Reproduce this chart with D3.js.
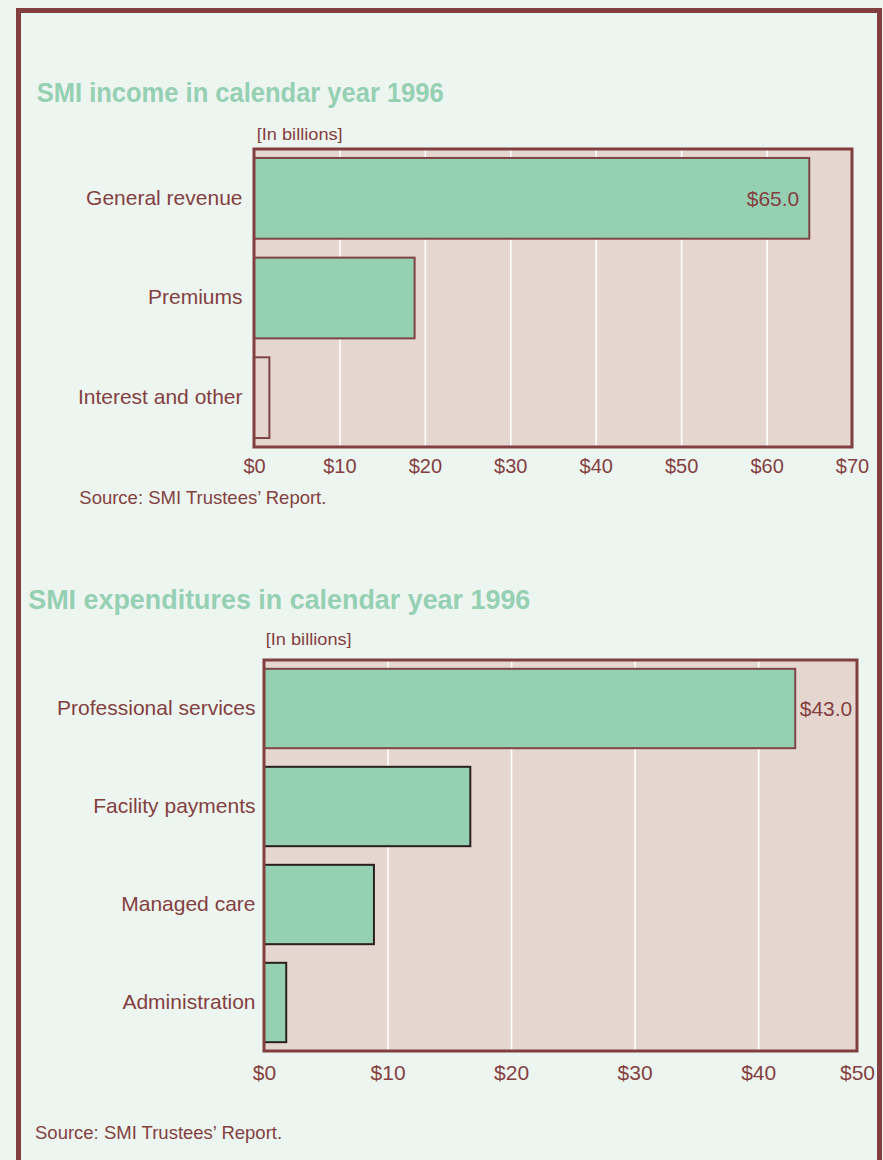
<!DOCTYPE html>
<html>
<head>
<meta charset="utf-8">
<script src="https://cdn.jsdelivr.net/npm/d3@7"></script>
<style>
  html, body { margin: 0; padding: 0; background: #edf5f0; }
  svg { display: block; font-family: "Liberation Sans", Arial, Helvetica, sans-serif; }
</style>
</head>
<body>
<svg id="chart" width="883" height="1160"></svg>
<script>
// ---------- data ----------
const incomeTitle = "SMI income in calendar year 1996";
const incomeCategories = ["General revenue", "Premiums", "Interest and other"];
const incomeValues = [65.0, 18.8, 1.8];
const incomeValueLabels = ["$65.0", "", ""];
const incomeTicks = [0, 10, 20, 30, 40, 50, 60, 70];
const incomeDomain = [0, 70];

const expenseTitle = "SMI expenditures in calendar year 1996";
const expenseCategories = ["Professional services", "Facility payments", "Managed care", "Administration"];
const expenseValues = [43.0, 16.7, 8.9, 1.8];
const expenseValueLabels = ["$43.0", "", "", ""];
const expenseTicks = [0, 10, 20, 30, 40, 50];
const expenseDomain = [0, 48];

const unitLabel = "[In billions]";
const sourceText = "Source: SMI Trustees\u2019 Report.";

// ---------- styles ----------
const C = {
  bg: "#edf5f0",
  border: "#813f3f",
  plotBg: "#e5d6cf",
  bar: "#95d0b3",
  text: "#843f3f",
  title: "#95d0b3",
  grid: "#ffffff"
};

const svg = d3.select("#chart");

// outer border
svg.append("rect")
  .attr("x", 18.5).attr("y", 10.5)
  .attr("width", 861).attr("height", 1200)
  .attr("fill", C.bg).attr("stroke", C.border).attr("stroke-width", 5);

function drawChart(cfg) {
  const g = svg.append("g");
  const x = d3.scaleLinear().domain(cfg.domain).range([cfg.left, cfg.right]).clamp(true);
  const y = d3.scaleBand().domain(cfg.categories).range([cfg.top, cfg.bottom])
    .paddingInner(0.19).paddingOuter(0.09);

  // title
  g.append("text")
    .attr("x", cfg.titleX).attr("y", cfg.titleY)
    .attr("font-size", 27).attr("font-weight", "bold")
    .attr("fill", C.title)
    .attr("textLength", cfg.titleW).attr("lengthAdjust", "spacingAndGlyphs")
    .text(cfg.title);

  // unit label
  g.append("text")
    .attr("x", cfg.unitX).attr("y", cfg.unitY)
    .attr("font-size", 17).attr("fill", C.text)
    .attr("textLength", 86).attr("lengthAdjust", "spacingAndGlyphs")
    .text(unitLabel);

  // plot background
  g.append("rect")
    .attr("x", cfg.left).attr("y", cfg.top)
    .attr("width", cfg.right - cfg.left).attr("height", cfg.bottom - cfg.top)
    .attr("fill", C.plotBg);

  // gridlines
  const gridTicks = cfg.ticks.filter(t => t > cfg.domain[0] && t < cfg.domain[1]);
  const gridAxis = d3.axisBottom(x).tickValues(gridTicks)
    .tickSize(-(cfg.bottom - cfg.top)).tickFormat("");
  const gg = g.append("g").attr("transform", `translate(0,${cfg.bottom})`).call(gridAxis);
  gg.select(".domain").remove();
  gg.selectAll(".tick line").attr("stroke", C.grid).attr("stroke-width", 1.6);

  // bars
  g.selectAll(".bar").data(cfg.values).enter().append("rect")
    .attr("x", x(0))
    .attr("y", (d, i) => y(cfg.categories[i]))
    .attr("width", d => x(d) - x(0))
    .attr("height", y.bandwidth())
    .attr("fill", (d, i) => cfg.fills[i])
    .attr("stroke", (d, i) => cfg.strokes[i])
    .attr("stroke-width", 2);

  // frame
  g.append("rect")
    .attr("x", cfg.left).attr("y", cfg.top)
    .attr("width", cfg.right - cfg.left).attr("height", cfg.bottom - cfg.top)
    .attr("fill", "none").attr("stroke", C.border).attr("stroke-width", 3);

  // category labels
  g.selectAll(".cat").data(cfg.categories).enter().append("text")
    .attr("x", cfg.catX)
    .attr("y", d => y(d) + y.bandwidth() / 2)
    .attr("dy", "0.3em")
    .attr("text-anchor", "end")
    .attr("font-size", 21).attr("fill", C.text)
    .text(d => d);

  // value labels
  g.selectAll(".val").data(cfg.valueLabels).enter().append("text")
    .filter(d => d !== "")
    .attr("x", (d, i) => cfg.valueInside ? x(cfg.values[i]) - 10 : x(cfg.values[i]) + 4.5)
    .attr("y", (d, i) => y(cfg.categories[i]) + y.bandwidth() / 2)
    .attr("dy", "0.35em")
    .attr("text-anchor", cfg.valueInside ? "end" : "start")
    .attr("font-size", 21).attr("fill", C.text)
    .text(d => d);

  // tick labels
  const axis = d3.axisBottom(x).tickValues(cfg.ticks).tickSize(0).tickPadding(0)
    .tickFormat(d => "$" + d);
  const ax = g.append("g").attr("transform", `translate(0,${cfg.tickY})`).call(axis);
  ax.select(".domain").remove();
  ax.selectAll("text")
    .attr("dy", 0).attr("y", 0)
    .attr("font-size", cfg.tickFont).attr("fill", C.text)
    .attr("font-family", "Liberation Sans, Arial, sans-serif");

  // source
  g.append("text")
    .attr("x", cfg.sourceX).attr("y", cfg.sourceY)
    .attr("font-size", 18.5).attr("fill", C.text)
    .text(sourceText);
}

drawChart({
  title: incomeTitle, titleX: 36.7, titleY: 101.7, titleW: 407,
  unitX: 256.7, unitY: 140,
  categories: incomeCategories, values: incomeValues, valueLabels: incomeValueLabels,
  ticks: incomeTicks, domain: incomeDomain,
  left: 254, right: 852, top: 149, bottom: 447,
  fills: [C.bar, C.bar, C.plotBg],
  strokes: ["#7f4444", "#7f4444", "#7f4444"],
  catX: 242.5, valueInside: true,
  tickY: 473, tickFont: 20,
  sourceX: 79.3, sourceY: 504
});

drawChart({
  title: expenseTitle, titleX: 28.3, titleY: 609.3, titleW: 502,
  unitX: 265.7, unitY: 645,
  categories: expenseCategories, values: expenseValues, valueLabels: expenseValueLabels,
  ticks: expenseTicks, domain: expenseDomain,
  left: 264, right: 857, top: 660, bottom: 1051,
  fills: [C.bar, C.bar, C.bar, C.bar],
  strokes: ["#7f4848", "#2b1f1f", "#2b1f1f", "#2b1f1f"],
  catX: 255.5, valueInside: false,
  tickY: 1080, tickFont: 21,
  sourceX: 35, sourceY: 1139
});
</script>
</body>
</html>
